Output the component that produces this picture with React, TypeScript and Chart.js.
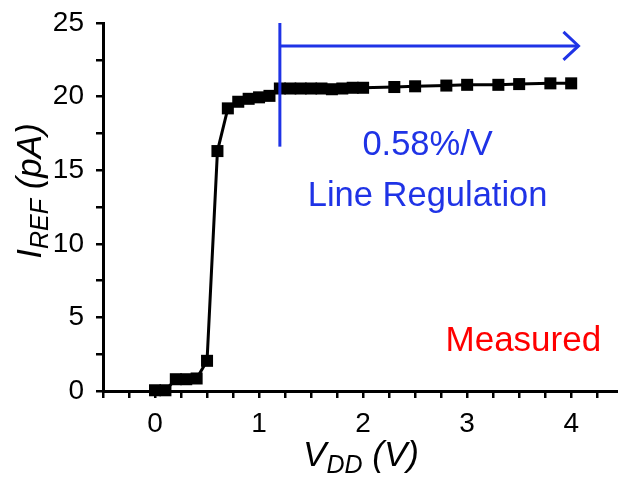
import React, { useEffect, useRef } from "react";
import { Chart, registerables } from "chart.js";

Chart.register(...registerables);

// Measured data: V_DD (V) vs I_REF (pA)
const VDD = [0, 0.1, 0.2, 0.3, 0.4, 0.5, 0.6, 0.7, 0.8, 0.9, 1.0, 1.1, 1.2, 1.3, 1.4, 1.5, 1.6, 1.7, 1.8, 1.9, 2.0, 2.3, 2.5, 2.8, 3.0, 3.3, 3.5, 3.8, 4.0];
const IREF = [0.05, 0.05, 0.8, 0.8, 0.85, 2.05, 16.3, 19.2, 19.65, 19.85, 19.95, 20.05, 20.55, 20.55, 20.55, 20.55, 20.55, 20.5, 20.55, 20.6, 20.6, 20.65, 20.7, 20.75, 20.8, 20.8, 20.85, 20.9, 20.9];

const X_TICKS = [-0.5, -0.25, 0, 0.25, 0.5, 0.75, 1, 1.25, 1.5, 1.75, 2, 2.25, 2.5, 2.75, 3, 3.25, 3.5, 3.75, 4, 4.25];
const X_LABELS = [0, 1, 2, 3, 4];
const Y_TICKS = [0, 2.5, 5, 7.5, 10, 12.5, 15, 17.5, 20, 22.5, 25];
const Y_LABELS = [0, 5, 10, 15, 20, 25];

const X_MIN = -0.5;
const X_MAX = 4.45;
const Y_MIN = 0;
const Y_MAX = 25;

// Annotation (data coordinates)
const REG_LINE_X = 1.2;
const REG_LINE_Y = [16.6, 25.0];
const ARROW_Y = 23.44;
const ARROW_END_X = 4.07;
const TEXT_RATE = "0.58%/V";
const TEXT_RATE_POS = [2.62, 16.0];
const TEXT_REG = "Line Regulation";
const TEXT_REG_POS = [2.62, 12.55];
const TEXT_MEAS = "Measured";
const TEXT_MEAS_POS = [3.54, 2.72];

const FONT = '"Liberation Sans", Arial, sans-serif';
const BLUE = "#1f33e6";
const RED = "#ff0000";

type Part = { text: string; size: number; dy: number };

function drawParts(ctx: CanvasRenderingContext2D, parts: Part[], x: number, y: number, rot: number) {
  ctx.save();
  ctx.translate(x, y);
  ctx.rotate(rot);
  ctx.fillStyle = "#000";
  ctx.textBaseline = "alphabetic";
  ctx.textAlign = "left";
  let total = 0;
  const widths = parts.map((p) => {
    ctx.font = `italic ${p.size}px ${FONT}`;
    const w = ctx.measureText(p.text).width;
    total += w;
    return w;
  });
  let cx = -total / 2;
  parts.forEach((p, i) => {
    ctx.font = `italic ${p.size}px ${FONT}`;
    ctx.fillText(p.text, cx, p.dy);
    cx += widths[i];
  });
  ctx.restore();
}

const annotationPlugin = {
  id: "annotations",
  afterDraw(chart: any) {
    const ctx: CanvasRenderingContext2D = chart.ctx;
    const xs = chart.scales.x;
    const ys = chart.scales.y;
    const px = (v: number) => xs.getPixelForValue(v);
    const py = (v: number) => ys.getPixelForValue(v);

    ctx.save();
    ctx.strokeStyle = BLUE;
    ctx.lineWidth = 3;
    ctx.lineCap = "butt";
    // vertical marker
    ctx.beginPath();
    ctx.moveTo(px(REG_LINE_X), py(REG_LINE_Y[0]));
    ctx.lineTo(px(REG_LINE_X), py(REG_LINE_Y[1]));
    ctx.stroke();
    // horizontal arrow
    const tipX = px(ARROW_END_X);
    const ay = py(ARROW_Y);
    ctx.beginPath();
    ctx.moveTo(px(REG_LINE_X), ay);
    ctx.lineTo(tipX, ay);
    ctx.stroke();
    ctx.beginPath();
    ctx.moveTo(tipX - 15, ay - 14);
    ctx.lineTo(tipX, ay);
    ctx.lineTo(tipX - 15, ay + 14);
    ctx.stroke();

    ctx.textAlign = "center";
    ctx.textBaseline = "alphabetic";
    ctx.fillStyle = BLUE;
    ctx.font = `34.5px ${FONT}`;
    ctx.fillText(TEXT_RATE, px(TEXT_RATE_POS[0]), py(TEXT_RATE_POS[1]));
    ctx.fillText(TEXT_REG, px(TEXT_REG_POS[0]), py(TEXT_REG_POS[1]));
    ctx.fillStyle = RED;
    ctx.font = `35px ${FONT}`;
    ctx.fillText(TEXT_MEAS, px(TEXT_MEAS_POS[0]), py(TEXT_MEAS_POS[1]));
    ctx.restore();

    // axis titles with subscripts
    drawParts(
      ctx,
      [
        { text: "V", size: 35, dy: 0 },
        { text: "DD", size: 25, dy: 7 },
        { text: " (V)", size: 35, dy: 0 },
      ],
      361,
      466,
      0
    );
    drawParts(
      ctx,
      [
        { text: "I", size: 35, dy: 0 },
        { text: "REF", size: 25, dy: 7 },
        { text: " (pA)", size: 35, dy: 0 },
      ],
      41,
      191,
      -Math.PI / 2
    );
  },
};

export default function App() {
  const ref = useRef<HTMLCanvasElement | null>(null);
  useEffect(() => {
    if (!ref.current) return;
    const chart = new Chart(ref.current, {
      type: "line",
      data: {
        datasets: [
          {
            data: VDD.map((x, i) => ({ x, y: IREF[i] })),
            borderColor: "#000",
            backgroundColor: "#000",
            borderWidth: 3,
            pointStyle: "rect",
            pointRadius: 8.5,
            pointBorderWidth: 0,
            tension: 0,
            clip: false,
          },
        ],
      },
      options: {
        responsive: false,
        animation: false,
        layout: { autoPadding: false, padding: { top: 23, right: 0, left: 0, bottom: 0 } },
        plugins: { legend: { display: false }, tooltip: { enabled: false }, title: { display: false } },
        scales: {
          x: {
            type: "linear",
            min: X_MIN,
            max: X_MAX,
            afterBuildTicks: (s: any) => {
              s.ticks = X_TICKS.map((v) => ({ value: v }));
            },
            afterFit: (s: any) => {
              s.height = 86;
              s.paddingLeft = 0;
              s.paddingRight = 0;
            },
            ticks: {
              autoSkip: false,
              maxRotation: 0,
              includeBounds: false,
              color: "#000",
              font: { family: FONT, size: 28 },
              padding: 9,
              callback: (v: any) => (X_LABELS.includes(Number(v)) ? String(v) : ""),
            },
            grid: { drawOnChartArea: false, drawTicks: true, tickLength: 7, color: "#000", lineWidth: 2.5 },
            border: { color: "#000", width: 3 },
          },
          y: {
            type: "linear",
            min: Y_MIN,
            max: Y_MAX,
            afterBuildTicks: (s: any) => {
              s.ticks = Y_TICKS.map((v) => ({ value: v }));
            },
            afterFit: (s: any) => {
              s.width = 103;
              s.paddingTop = 0;
              s.paddingBottom = 0;
            },
            ticks: {
              autoSkip: false,
              includeBounds: false,
              color: "#000",
              font: { family: FONT, size: 28 },
              padding: 12,
              callback: (v: any) => (Y_LABELS.includes(Number(v)) ? String(v) : ""),
            },
            grid: { drawOnChartArea: false, drawTicks: true, tickLength: 7, color: "#000", lineWidth: 2.5 },
            border: { color: "#000", width: 3 },
          },
        },
      },
      plugins: [annotationPlugin],
    });
    return () => chart.destroy();
  }, []);
  return (
    <div style={{ position: "fixed", left: 0, top: 0, width: 618, height: 477, background: "#fff" }}>
      <canvas ref={ref} width={618} height={477} />
    </div>
  );
}
